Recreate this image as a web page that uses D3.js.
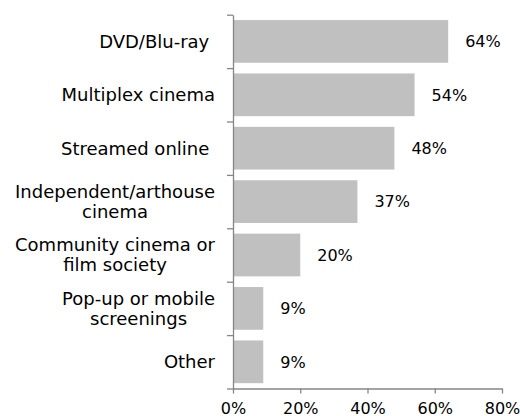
<!DOCTYPE html>
<html>
<head>
<meta charset="utf-8">
<script src="https://cdn.jsdelivr.net/npm/d3@7"></script>
<style>
  html, body { margin: 0; padding: 0; background: #fff; }
  svg { display: block; font-family: "DejaVu Sans", Verdana, sans-serif; }
</style>
</head>
<body>
<svg id="chart" width="520" height="416"></svg>
<script>
// Horizontal bar chart: where people watched films.
var CATEGORIES = [
  ['DVD/Blu-ray '],
  ['Multiplex cinema'],
  ['Streamed online '],
  ['Independent/arthouse', 'cinema'],
  ['Community cinema or', 'film society'],
  ['Pop-up or mobile', 'screenings'],
  ['Other']
];
var VALUES = [64, 54, 48, 37, 20, 9, 9];
var X_TICKS = [0, 20, 40, 60, 80];

(function draw() {
  var svg = d3.select('#chart');
  var left = 233, right = 502, top = 14.7, bottom = 388.5;
  var axisColor = '#868686';
  var n = VALUES.length;

  var x = d3.scaleLinear().domain([0, 80]).range([left, right]);
  var y = d3.scaleBand().domain(d3.range(n)).range([top, bottom])
    .paddingInner(0.2).paddingOuter(0.1);
  var yEdge = d3.scaleLinear().domain([0, n]).range([top, bottom]);

  // bars
  svg.append('g').selectAll('rect')
    .data(VALUES)
    .join('rect')
    .attr('x', x(0))
    .attr('y', function (d, i) { return y(i); })
    .attr('width', function (d) { return x(d) - x(0); })
    .attr('height', y.bandwidth())
    .style('fill', '#c0c0c0');

  // value labels
  svg.append('g').selectAll('text')
    .data(VALUES)
    .join('text')
    .attr('x', function (d) { return x(d) + 17; })
    .attr('y', function (d, i) { return y(i) + y.bandwidth() / 2; })
    .attr('dy', '0.36em')
    .style('font-size', '16px')
    .style('fill', '#000')
    .text(function (d) { return d + '%'; });

  // y axis: line with ticks between categories
  var yAxis = svg.append('g')
    .attr('transform', 'translate(' + left + ',0)')
    .call(d3.axisLeft(yEdge).tickValues(d3.range(n + 1)).tickFormat('').tickSize(6).tickSizeOuter(0));
  yAxis.selectAll('path, line').style('stroke', axisColor).style('stroke-width', 1.3);

  // x axis
  var xAxis = svg.append('g')
    .attr('transform', 'translate(0,' + bottom + ')')
    .call(d3.axisBottom(x).tickValues(X_TICKS).tickSize(5).tickSizeOuter(0).tickPadding(9)
      .tickFormat(function (d) { return d + '%'; }));
  xAxis.selectAll('path, line').style('stroke', axisColor).style('stroke-width', 1.3);
  xAxis.selectAll('text').style('font-size', '16px').style('fill', '#000')
    .style('font-family', '"DejaVu Sans", Verdana, sans-serif');

  // category labels, block right-aligned, lines centred within block
  var labelRight = 215, lineHeight = 20;
  CATEGORIES.forEach(function (lines, i) {
    var cy = y(i) + y.bandwidth() / 2;
    var g = svg.append('text')
      .style('font-size', '18px')
      .style('white-space', 'pre')
      .style('fill', '#000')
      .attr('text-anchor', 'middle');
    lines.forEach(function (line, j) {
      g.append('tspan')
        .attr('y', cy + (j - (lines.length - 1) / 2) * lineHeight)
        .attr('dy', '0.36em')
        .text(line);
    });
    var w = d3.max(g.selectAll('tspan').nodes(), function (t) { return t.getComputedTextLength(); });
    g.selectAll('tspan').attr('x', labelRight - w / 2);
  });
})();
</script>
</body>
</html>
